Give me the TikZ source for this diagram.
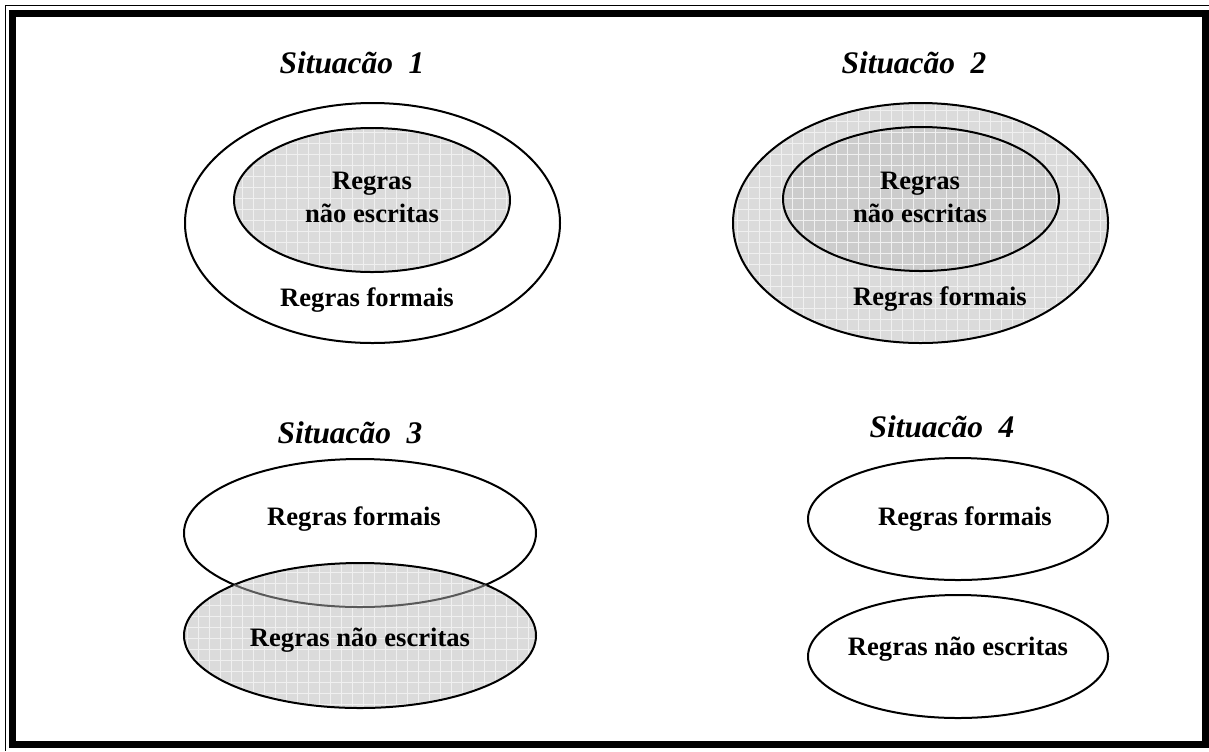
\documentclass[tikz,border=0pt]{standalone}
\usepackage{fontspec}
\setmainfont{Liberation Serif}
\usetikzlibrary{positioning}

\begin{document}
\begin{tikzpicture}[
    x=0.5pt, y=-0.5pt,
    title/.style={font=\fontsize{15.7}{19}\selectfont\bfseries\itshape, anchor=base},
    lbl/.style  ={font=\fontsize{13.3}{16.5}\selectfont\bfseries, align=center},
    rim/.style  ={draw=black, line width=1pt},
    gridded/.style={path picture={\draw[gray!12, line width=0.3pt, step=5.5pt]
                    (path picture bounding box.south west) grid
                    (path picture bounding box.north east);}},
    light/.style={rim, fill=gray!28, gridded},
    dark/.style ={rim, fill=gray!40, gridded},
    blank/.style={rim, fill=white}
  ]
  \useasboundingbox (0,0) rectangle (1209,751);
  \draw[line width=0.5pt] (5.5,751) -- (5.5,5.5) -- (1209,5.5);
  \draw[line width=3.5pt] (12.5,13) rectangle (1205,744.5);

  \path[blank] (372.5,223) ellipse [x radius=187.5, y radius=120];
  \path[light] (372,200) ellipse [x radius=138, y radius=72];
  \node[title] (t1) at (352,73) {Situacão\ \ 1};
  \node[lbl] (s1in)  at (372,197)   {Regras\\não escritas};
  \node[lbl] (s1out) at (367,300.5) {Regras formais};

  \path[light] (920.5,223) ellipse [x radius=187.5, y radius=120];
  \path[dark]  (921,199) ellipse [x radius=138, y radius=72];
  \node[title] (t2) at (914,73) {Situacão\ \ 2};
  \node[lbl] (s2in)  at (920,197.5) {Regras\\não escritas};
  \node[lbl] (s2out) at (940,299.5) {Regras formais};

  \path[blank] (360,533) ellipse [x radius=176, y radius=74];
  \path[light] (360,635.5) ellipse [x radius=176, y radius=72.5];
  \begin{scope}
    \clip (360,635.5) ellipse [x radius=176, y radius=72.5];
    \draw[black!65, line width=1pt] (360,533) ellipse [x radius=176, y radius=74];
  \end{scope}
  \node[title] (t3) at (350,443) {Situacão\ \ 3};
  \node[lbl] (s3f) at (354,519.5) {Regras formais};
  \node[lbl] (s3n) at (360,640.5) {Regras não escritas};

  \path[blank] (958,519) ellipse [x radius=150, y radius=61];
  \path[blank] (958,656.5) ellipse [x radius=150, y radius=61.5];
  \node[title] (t4) at (942,437) {Situacão\ \ 4};
  \node[lbl] (s4f) at (965,519.5) {Regras formais};
  \node[lbl] (s4n) at (958,649.5) {Regras não escritas};
\end{tikzpicture}
\end{document}
